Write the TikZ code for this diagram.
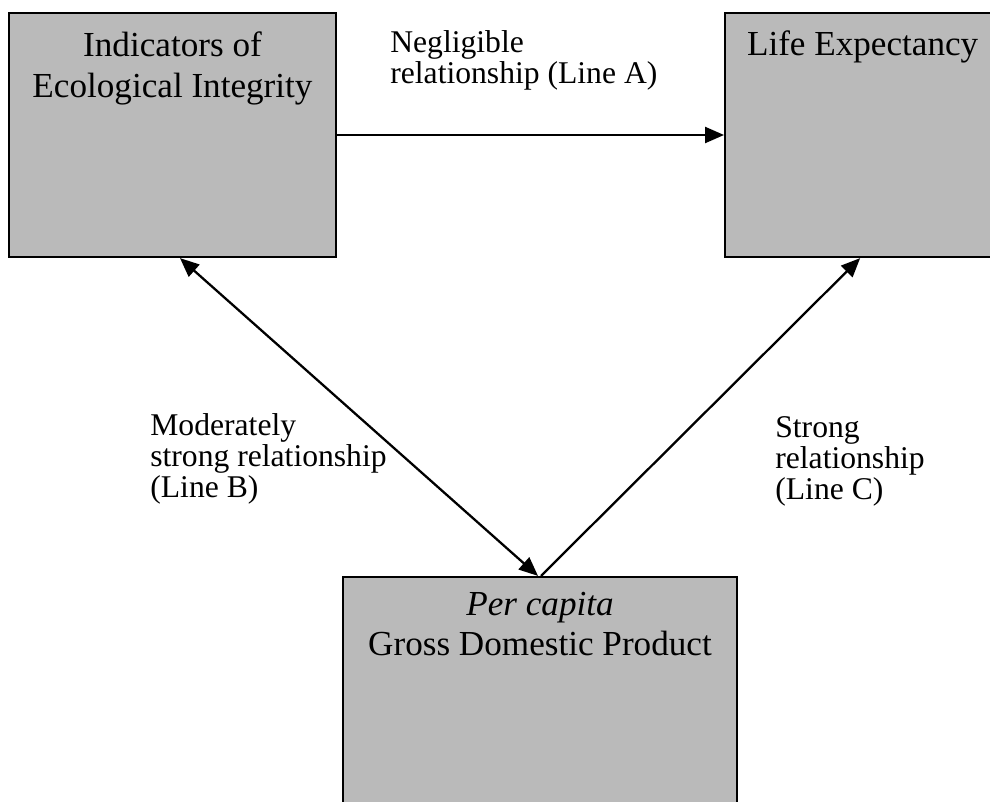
\documentclass[tikz,border=0pt]{standalone}
\usepackage{fontspec}
\setmainfont{Liberation Serif}
\usetikzlibrary{positioning, arrows.meta}

\begin{document}
\begin{tikzpicture}[
        x=0.02cm, y=-0.02cm,
        box/.style={draw, rectangle, line width=1.3pt, fill=black!27, minimum height=4.88cm},
        boxtext/.style={align=center, inner sep=0pt, font=\fontsize{20}{23}\selectfont},
        note/.style={align=left, inner sep=0pt, anchor=north west, font=\fontsize{18}{17.6}\selectfont},
        arrow/.style={->, >={Triangle[length=0.38cm, width=0.32cm]}, line width=1.3pt}
    ]
    \useasboundingbox (0,0) rectangle (990,801);
    \node[box, minimum width=6.54cm] (indic) at (172.5,135) {};
    \node[box, minimum width=5.5cm, right=7.74cm of indic] (life) {};
    \node[box, minimum width=7.88cm] (gdp) at (540,699) {};

    \node[boxtext, below=0.4cm of indic.north] (indictext) {Indicators of\\Ecological Integrity};
    \node[boxtext, below=0.38cm of life.north] (lifetext) {Life Expectancy};
    \node[boxtext, below=0.32cm of gdp.north] (gdptext) {\textit{Per capita}\\Gross Domestic Product};

    \node[note] (lineA) at (390,30) {Negligible\\relationship (Line A)};
    \node[note] (lineB) at (150,413) {Moderately\\strong relationship\\(Line B)};
    \node[note] (lineC) at (775,416) {Strong\\relationship\\(Line C)};

    \draw[arrow] (indic) -- (life);
    \draw[arrow, <->] ([xshift=0.15cm]indic.south) -- ([xshift=-0.04cm]gdp.north);
    \draw[arrow] ([xshift=0.02cm]gdp.north) -- ([xshift=-0.05cm]life.south);
\end{tikzpicture}
\end{document}
